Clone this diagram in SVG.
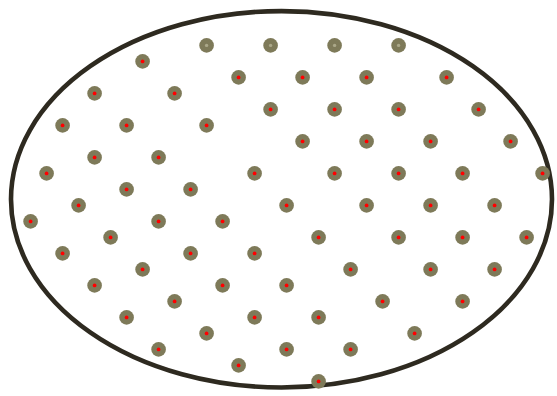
<svg xmlns="http://www.w3.org/2000/svg" width="557" height="396" viewBox="0 0 557 396">
<style>
.bnd{fill:#ffffff;stroke:#2e2a20;stroke-width:4.6}
.o{fill:#7e7a59}
.r{fill:#ff0000}
.g{fill:#aba889}
</style>
<rect width="557" height="396" fill="#ffffff"/>
<g id="boundary"><ellipse class="bnd" cx="281.5" cy="199.3" rx="270.5" ry="188.2"/></g>
<g id="connectors"></g>
<g id="nodes">
<g id="n1" transform="translate(206.6,45.4)"><circle class="o" r="7.3"/><circle class="g" r="1.7"/></g>
<g id="n2" transform="translate(270.6,45.4)"><circle class="o" r="7.3"/><circle class="g" r="1.7"/></g>
<g id="n3" transform="translate(334.6,45.4)"><circle class="o" r="7.3"/><circle class="g" r="1.7"/></g>
<g id="n4" transform="translate(398.6,45.4)"><circle class="o" r="7.3"/><circle class="g" r="1.7"/></g>
<g id="n5" transform="translate(142.6,61.4)"><circle class="o" r="7.3"/><circle class="r" r="1.9"/></g>
<g id="n6" transform="translate(238.6,77.4)"><circle class="o" r="7.3"/><circle class="r" r="1.9"/></g>
<g id="n7" transform="translate(302.6,77.4)"><circle class="o" r="7.3"/><circle class="r" r="1.9"/></g>
<g id="n8" transform="translate(366.6,77.4)"><circle class="o" r="7.3"/><circle class="r" r="1.9"/></g>
<g id="n9" transform="translate(446.6,77.4)"><circle class="o" r="7.3"/><circle class="r" r="1.9"/></g>
<g id="n10" transform="translate(94.6,93.4)"><circle class="o" r="7.3"/><circle class="r" r="1.9"/></g>
<g id="n11" transform="translate(174.6,93.4)"><circle class="o" r="7.3"/><circle class="r" r="1.9"/></g>
<g id="n12" transform="translate(270.6,109.4)"><circle class="o" r="7.3"/><circle class="r" r="1.9"/></g>
<g id="n13" transform="translate(334.6,109.4)"><circle class="o" r="7.3"/><circle class="r" r="1.9"/></g>
<g id="n14" transform="translate(398.6,109.4)"><circle class="o" r="7.3"/><circle class="r" r="1.9"/></g>
<g id="n15" transform="translate(478.6,109.4)"><circle class="o" r="7.3"/><circle class="r" r="1.9"/></g>
<g id="n16" transform="translate(62.6,125.4)"><circle class="o" r="7.3"/><circle class="r" r="1.9"/></g>
<g id="n17" transform="translate(126.6,125.4)"><circle class="o" r="7.3"/><circle class="r" r="1.9"/></g>
<g id="n18" transform="translate(206.6,125.4)"><circle class="o" r="7.3"/><circle class="r" r="1.9"/></g>
<g id="n19" transform="translate(302.6,141.4)"><circle class="o" r="7.3"/><circle class="r" r="1.9"/></g>
<g id="n20" transform="translate(366.6,141.4)"><circle class="o" r="7.3"/><circle class="r" r="1.9"/></g>
<g id="n21" transform="translate(430.6,141.4)"><circle class="o" r="7.3"/><circle class="r" r="1.9"/></g>
<g id="n22" transform="translate(510.6,141.4)"><circle class="o" r="7.3"/><circle class="r" r="1.9"/></g>
<g id="n23" transform="translate(94.6,157.4)"><circle class="o" r="7.3"/><circle class="r" r="1.9"/></g>
<g id="n24" transform="translate(158.6,157.4)"><circle class="o" r="7.3"/><circle class="r" r="1.9"/></g>
<g id="n25" transform="translate(46.6,173.4)"><circle class="o" r="7.3"/><circle class="r" r="1.9"/></g>
<g id="n26" transform="translate(254.6,173.4)"><circle class="o" r="7.3"/><circle class="r" r="1.9"/></g>
<g id="n27" transform="translate(334.6,173.4)"><circle class="o" r="7.3"/><circle class="r" r="1.9"/></g>
<g id="n28" transform="translate(398.6,173.4)"><circle class="o" r="7.3"/><circle class="r" r="1.9"/></g>
<g id="n29" transform="translate(462.6,173.4)"><circle class="o" r="7.3"/><circle class="r" r="1.9"/></g>
<g id="n30" transform="translate(542.6,173.4)"><circle class="o" r="7.3"/><circle class="r" r="1.9"/></g>
<g id="n31" transform="translate(126.6,189.4)"><circle class="o" r="7.3"/><circle class="r" r="1.9"/></g>
<g id="n32" transform="translate(190.6,189.4)"><circle class="o" r="7.3"/><circle class="r" r="1.9"/></g>
<g id="n33" transform="translate(78.6,205.4)"><circle class="o" r="7.3"/><circle class="r" r="1.9"/></g>
<g id="n34" transform="translate(286.6,205.4)"><circle class="o" r="7.3"/><circle class="r" r="1.9"/></g>
<g id="n35" transform="translate(366.6,205.4)"><circle class="o" r="7.3"/><circle class="r" r="1.9"/></g>
<g id="n36" transform="translate(430.6,205.4)"><circle class="o" r="7.3"/><circle class="r" r="1.9"/></g>
<g id="n37" transform="translate(494.6,205.4)"><circle class="o" r="7.3"/><circle class="r" r="1.9"/></g>
<g id="n38" transform="translate(30.6,221.4)"><circle class="o" r="7.3"/><circle class="r" r="1.9"/></g>
<g id="n39" transform="translate(158.6,221.4)"><circle class="o" r="7.3"/><circle class="r" r="1.9"/></g>
<g id="n40" transform="translate(222.6,221.4)"><circle class="o" r="7.3"/><circle class="r" r="1.9"/></g>
<g id="n41" transform="translate(110.6,237.4)"><circle class="o" r="7.3"/><circle class="r" r="1.9"/></g>
<g id="n42" transform="translate(318.6,237.4)"><circle class="o" r="7.3"/><circle class="r" r="1.9"/></g>
<g id="n43" transform="translate(398.6,237.4)"><circle class="o" r="7.3"/><circle class="r" r="1.9"/></g>
<g id="n44" transform="translate(462.6,237.4)"><circle class="o" r="7.3"/><circle class="r" r="1.9"/></g>
<g id="n45" transform="translate(526.6,237.4)"><circle class="o" r="7.3"/><circle class="r" r="1.9"/></g>
<g id="n46" transform="translate(62.6,253.4)"><circle class="o" r="7.3"/><circle class="r" r="1.9"/></g>
<g id="n47" transform="translate(190.6,253.4)"><circle class="o" r="7.3"/><circle class="r" r="1.9"/></g>
<g id="n48" transform="translate(254.6,253.4)"><circle class="o" r="7.3"/><circle class="r" r="1.9"/></g>
<g id="n49" transform="translate(142.6,269.4)"><circle class="o" r="7.3"/><circle class="r" r="1.9"/></g>
<g id="n50" transform="translate(350.6,269.4)"><circle class="o" r="7.3"/><circle class="r" r="1.9"/></g>
<g id="n51" transform="translate(430.6,269.4)"><circle class="o" r="7.3"/><circle class="r" r="1.9"/></g>
<g id="n52" transform="translate(494.6,269.4)"><circle class="o" r="7.3"/><circle class="r" r="1.9"/></g>
<g id="n53" transform="translate(94.6,285.4)"><circle class="o" r="7.3"/><circle class="r" r="1.9"/></g>
<g id="n54" transform="translate(222.6,285.4)"><circle class="o" r="7.3"/><circle class="r" r="1.9"/></g>
<g id="n55" transform="translate(286.6,285.4)"><circle class="o" r="7.3"/><circle class="r" r="1.9"/></g>
<g id="n56" transform="translate(174.6,301.4)"><circle class="o" r="7.3"/><circle class="r" r="1.9"/></g>
<g id="n57" transform="translate(382.6,301.4)"><circle class="o" r="7.3"/><circle class="r" r="1.9"/></g>
<g id="n58" transform="translate(462.6,301.4)"><circle class="o" r="7.3"/><circle class="r" r="1.9"/></g>
<g id="n59" transform="translate(126.6,317.4)"><circle class="o" r="7.3"/><circle class="r" r="1.9"/></g>
<g id="n60" transform="translate(254.6,317.4)"><circle class="o" r="7.3"/><circle class="r" r="1.9"/></g>
<g id="n61" transform="translate(318.6,317.4)"><circle class="o" r="7.3"/><circle class="r" r="1.9"/></g>
<g id="n62" transform="translate(206.6,333.4)"><circle class="o" r="7.3"/><circle class="r" r="1.9"/></g>
<g id="n63" transform="translate(414.6,333.4)"><circle class="o" r="7.3"/><circle class="r" r="1.9"/></g>
<g id="n64" transform="translate(158.6,349.4)"><circle class="o" r="7.3"/><circle class="r" r="1.9"/></g>
<g id="n65" transform="translate(286.6,349.4)"><circle class="o" r="7.3"/><circle class="r" r="1.9"/></g>
<g id="n66" transform="translate(350.6,349.4)"><circle class="o" r="7.3"/><circle class="r" r="1.9"/></g>
<g id="n67" transform="translate(238.6,365.4)"><circle class="o" r="7.3"/><circle class="r" r="1.9"/></g>
<g id="n68" transform="translate(318.6,381.4)"><circle class="o" r="7.3"/><circle class="r" r="1.9"/></g>
</g>
</svg>
